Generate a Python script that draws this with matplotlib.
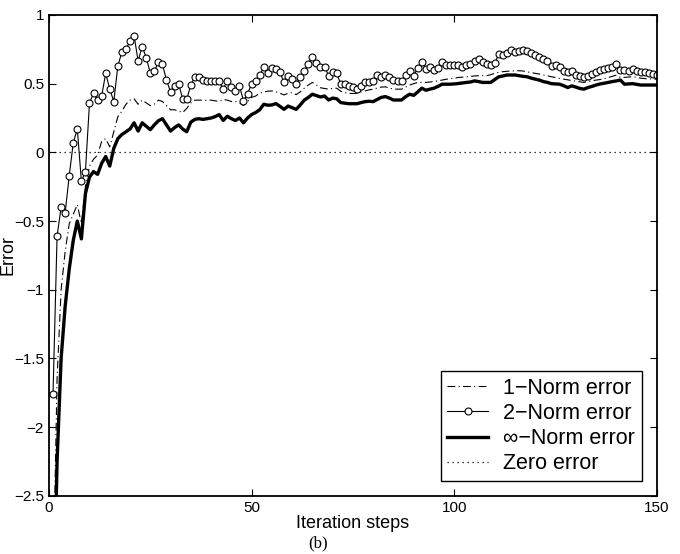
import numpy as np
import matplotlib
matplotlib.use("Agg")
import matplotlib.pyplot as plt

plt.rcParams['font.family'] = ['Liberation Sans', 'DejaVu Sans']

# iteration axis
steps = np.arange(1, 151)

# 1-norm error (dash-dot)
err_1 = [-3.2, -1.65, -1.0, -0.72, -0.52, -0.45, -0.38, -0.52, -0.25, -0.1,
         -0.05, -0.02, 0.08, 0.1, 0.04, 0.15, 0.26, 0.3, 0.35, 0.38,
         0.39, 0.35, 0.38, 0.36, 0.34, 0.35, 0.38, 0.37, 0.34, 0.31,
         0.31, 0.3, 0.29, 0.32, 0.36, 0.38, 0.38, 0.38, 0.378, 0.38,
         0.375, 0.37, 0.385, 0.38, 0.37, 0.37, 0.36, 0.34, 0.37, 0.4,
         0.41, 0.43, 0.44, 0.445, 0.447, 0.44, 0.43, 0.418, 0.43, 0.435,
         0.42, 0.44, 0.467, 0.49, 0.509, 0.49, 0.47, 0.465, 0.46, 0.465,
         0.467, 0.445, 0.435, 0.43, 0.428, 0.43, 0.44, 0.447, 0.455, 0.46,
         0.468, 0.475, 0.477, 0.468, 0.46, 0.46, 0.46, 0.475, 0.49, 0.5,
         0.509, 0.509, 0.509, 0.512, 0.516, 0.521, 0.526, 0.532, 0.536, 0.54,
         0.545, 0.547, 0.55, 0.553, 0.556, 0.558, 0.558, 0.558, 0.565, 0.575,
         0.583, 0.587, 0.59, 0.592, 0.594, 0.594, 0.592, 0.586, 0.58, 0.575,
         0.57, 0.563, 0.557, 0.55, 0.545, 0.538, 0.533, 0.528, 0.523, 0.518,
         0.513, 0.509, 0.515, 0.521, 0.526, 0.53, 0.536, 0.545, 0.553, 0.562,
         0.545, 0.546, 0.548, 0.55, 0.546, 0.54, 0.537, 0.535, 0.533, 0.533]

# 2-norm error (circles)
err_2 = [-1.76, -0.61, -0.40, -0.44, -0.17, 0.07, 0.17, -0.21, -0.14, 0.36,
         0.43, 0.38, 0.41, 0.575, 0.46, 0.37, 0.63, 0.73, 0.75, 0.81,
         0.85, 0.665, 0.77, 0.69, 0.577, 0.59, 0.656, 0.64, 0.526, 0.44,
         0.48, 0.5, 0.386, 0.386, 0.49, 0.55, 0.545, 0.526, 0.516, 0.516,
         0.521, 0.516, 0.46, 0.521, 0.477, 0.447, 0.484, 0.374, 0.428, 0.496,
         0.521, 0.562, 0.619, 0.575, 0.614, 0.607, 0.582, 0.509, 0.558, 0.533,
         0.496, 0.55, 0.59, 0.643, 0.697, 0.648, 0.619, 0.624, 0.558, 0.582,
         0.575, 0.496, 0.496, 0.484, 0.477, 0.46, 0.484, 0.509, 0.509, 0.516,
         0.562, 0.545, 0.565, 0.545, 0.526, 0.521, 0.516, 0.565, 0.59, 0.558,
         0.614, 0.655, 0.607, 0.619, 0.6, 0.614, 0.655, 0.636, 0.638, 0.638,
         0.638, 0.624, 0.638, 0.643, 0.668, 0.68, 0.655, 0.643, 0.638, 0.648,
         0.717, 0.705, 0.722, 0.742, 0.73, 0.737, 0.742, 0.737, 0.722, 0.705,
         0.693, 0.68, 0.668, 0.631, 0.638, 0.619, 0.594, 0.582, 0.59, 0.565,
         0.558, 0.545, 0.558, 0.57, 0.582, 0.6, 0.607, 0.614, 0.619, 0.643,
         0.6, 0.6, 0.594, 0.607, 0.59, 0.582, 0.582, 0.575, 0.57, 0.565]

# inf-norm error (thick)
err_inf = [-3.6, -2.25, -1.5, -1.12, -0.85, -0.64, -0.5, -0.63, -0.3, -0.18,
           -0.14, -0.16, -0.08, -0.03, -0.1, 0.03, 0.1, 0.13, 0.15, 0.17,
           0.215, 0.155, 0.215, 0.19, 0.165, 0.2, 0.23, 0.245, 0.2, 0.155,
           0.18, 0.2, 0.17, 0.15, 0.22, 0.24, 0.245, 0.24, 0.245, 0.25,
           0.26, 0.275, 0.232, 0.263, 0.245, 0.232, 0.25, 0.215, 0.25, 0.275,
           0.29, 0.31, 0.35, 0.343, 0.345, 0.355, 0.335, 0.313, 0.337, 0.325,
           0.313, 0.345, 0.38, 0.4, 0.423, 0.413, 0.403, 0.41, 0.381, 0.395,
           0.39, 0.362, 0.358, 0.354, 0.354, 0.354, 0.362, 0.369, 0.372, 0.369,
           0.385, 0.4, 0.406, 0.395, 0.381, 0.381, 0.381, 0.405, 0.423, 0.415,
           0.44, 0.467, 0.452, 0.46, 0.467, 0.48, 0.496, 0.496, 0.496, 0.498,
           0.501, 0.505, 0.509, 0.512, 0.52, 0.515, 0.509, 0.509, 0.509, 0.53,
           0.55, 0.556, 0.563, 0.563, 0.563, 0.558, 0.553, 0.55, 0.54, 0.533,
           0.526, 0.515, 0.509, 0.5, 0.498, 0.496, 0.485, 0.472, 0.484, 0.475,
           0.465, 0.46, 0.472, 0.48, 0.49, 0.498, 0.503, 0.509, 0.515, 0.52,
           0.526, 0.496, 0.498, 0.5, 0.495, 0.49, 0.49, 0.49, 0.49, 0.49]

x_ticks = [0, 50, 100, 150]
y_ticks = [-2.5, -2, -1.5, -1, -0.5, 0, 0.5, 1]
y_labels = ['\u22122.5', '\u22122', '\u22121.5', '\u22121', '\u22120.5', '0', '0.5', '1']

fig = plt.figure(figsize=(6.8, 5.54), dpi=100)
ax = fig.add_axes([0.072, 0.105, 0.894, 0.868])

ax.plot(steps, err_1, color='black', lw=0.8, dashes=(7, 3, 1, 3), label='1\u2212Norm error')
ax.plot(steps, err_2, color='black', lw=0.8, marker='o', ms=5, mfc='white', mec='black',
        mew=0.8, label='2\u2212Norm error')
ax.plot(steps, err_inf, color='black', lw=2.4, label='\u221e\u2212Norm error')
ax.axhline(0, color='black', lw=0.9, linestyle=(0, (1, 3)), label='Zero error')

ax.set_xlim(0, 150)
ax.set_ylim(-2.5, 1)
ax.set_xticks(x_ticks)
ax.set_yticks(y_ticks)
ax.set_yticklabels(y_labels)
ax.tick_params(direction='in', top=True, right=True, labelsize=11, length=5, width=0.8)
for s in ax.spines.values():
    s.set_linewidth(1.3)

ax.set_xlabel('Iteration steps', fontsize=13, labelpad=0)
ax.set_ylabel('Error', fontsize=13)
ax.yaxis.set_label_coords(-0.053, 0.5)

leg = ax.legend(loc='lower right', fontsize=15.5, labelspacing=0.2, handlelength=1.9,
                handletextpad=0.7, borderpad=0.3, borderaxespad=0, fancybox=False,
                framealpha=1, edgecolor='black', bbox_to_anchor=(0.975, 0.031))
leg.get_frame().set_linewidth(1.0)

fig.text(0.468, 0.004, '(b)', fontsize=12, family='Liberation Serif', ha='center', va='bottom')

fig.savefig('out.png', dpi=100)
